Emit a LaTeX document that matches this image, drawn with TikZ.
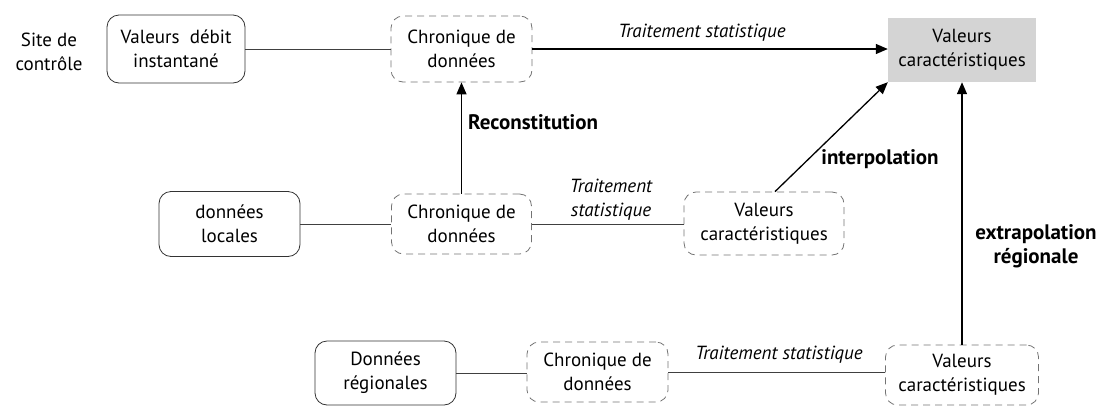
\documentclass[tikz,border=0pt]{standalone}
\usepackage{fontspec}
\setmainfont{PT Sans}
\usetikzlibrary{arrows.meta}
\begin{document}
\begin{tikzpicture}[x=1pt,y=-1pt,
  every node/.style={font=\fontsize{19}{24}\selectfont, align=center, inner sep=0pt},
  solidbox/.style={draw=black!80, line width=0.8pt, rounded corners=12pt},
  dashbox/.style={draw=black!55, line width=0.8pt, dash pattern=on 7pt off 5pt, rounded corners=12pt},
  graybox/.style={fill=black!17},
  link/.style={draw=black!75, line width=1pt},
  arr/.style={draw=black, line width=1.3pt, -{Triangle[length=12pt,width=10pt]}},
  lab/.style={font=\fontsize{19}{24}\selectfont\itshape},
  blab/.style={font=\fontsize{21}{24}\selectfont\bfseries}]
\useasboundingbox (0,0) rectangle (1105,405);

\node (site) at (49,52) {Site de\\contrôle};
\node[solidbox, minimum width=138pt, minimum height=68pt] (vdi) at (176,49) {Valeurs\ \ débit\\instantané};
\node[dashbox, minimum width=141pt, minimum height=66pt] (c1) at (461.5,49) {Chronique de\\données};
\node[graybox, minimum width=148pt, minimum height=64pt] (g) at (962,50) {Valeurs\\caractéristiques};

\node[solidbox, minimum width=141pt, minimum height=65pt] (loc) at (229.5,224) {données\\locales};
\node[dashbox, minimum width=140pt, minimum height=60pt] (c2) at (461.5,224) {Chronique de\\données};
\node[dashbox, minimum width=160pt, minimum height=63pt] (v2) at (764,223.5) {Valeurs\\caractéristiques};

\node[solidbox, minimum width=141pt, minimum height=64pt] (reg) at (385.5,373) {Données\\régionales};
\node[dashbox, minimum width=141pt, minimum height=60pt] (c3) at (597.5,372) {Chronique de\\données};
\node[dashbox, minimum width=153pt, minimum height=60pt] (v3) at (962,375) {Valeurs\\caractéristiques};

\node[lab] (t1) at (702,33) {Traitement statistique};
\node[lab] (t2) at (611,200) {Traitement\\statistique};
\node[lab] (t3) at (779,355) {Traitement statistique};
\node[blab, anchor=west] (rec) at (468,122) {Reconstitution};
\node[blab] (interp) at (880,159) {interpolation};
\node[blab] (extra) at (1036,246) {extrapolation\\régionale};

\draw[link] (vdi.east) -- (vdi.east -| c1.west);
\draw[arr] (c1.east) -- (c1.east -| g.west);
\draw[arr] (c2) -- (c1);
\draw[link] (loc.east) -- (loc.east -| c2.west);
\draw[link] (c2.east) -- (c2.east -| v2.west);
\draw[arr] ([xshift=11pt]v2.north) -- (g.south west);
\draw[arr] (v3) -- (g);
\draw[link] (reg.east) -- (reg.east -| c3.west);
\draw[link] (c3.east) -- (c3.east -| v3.west);
\end{tikzpicture}
\end{document}
